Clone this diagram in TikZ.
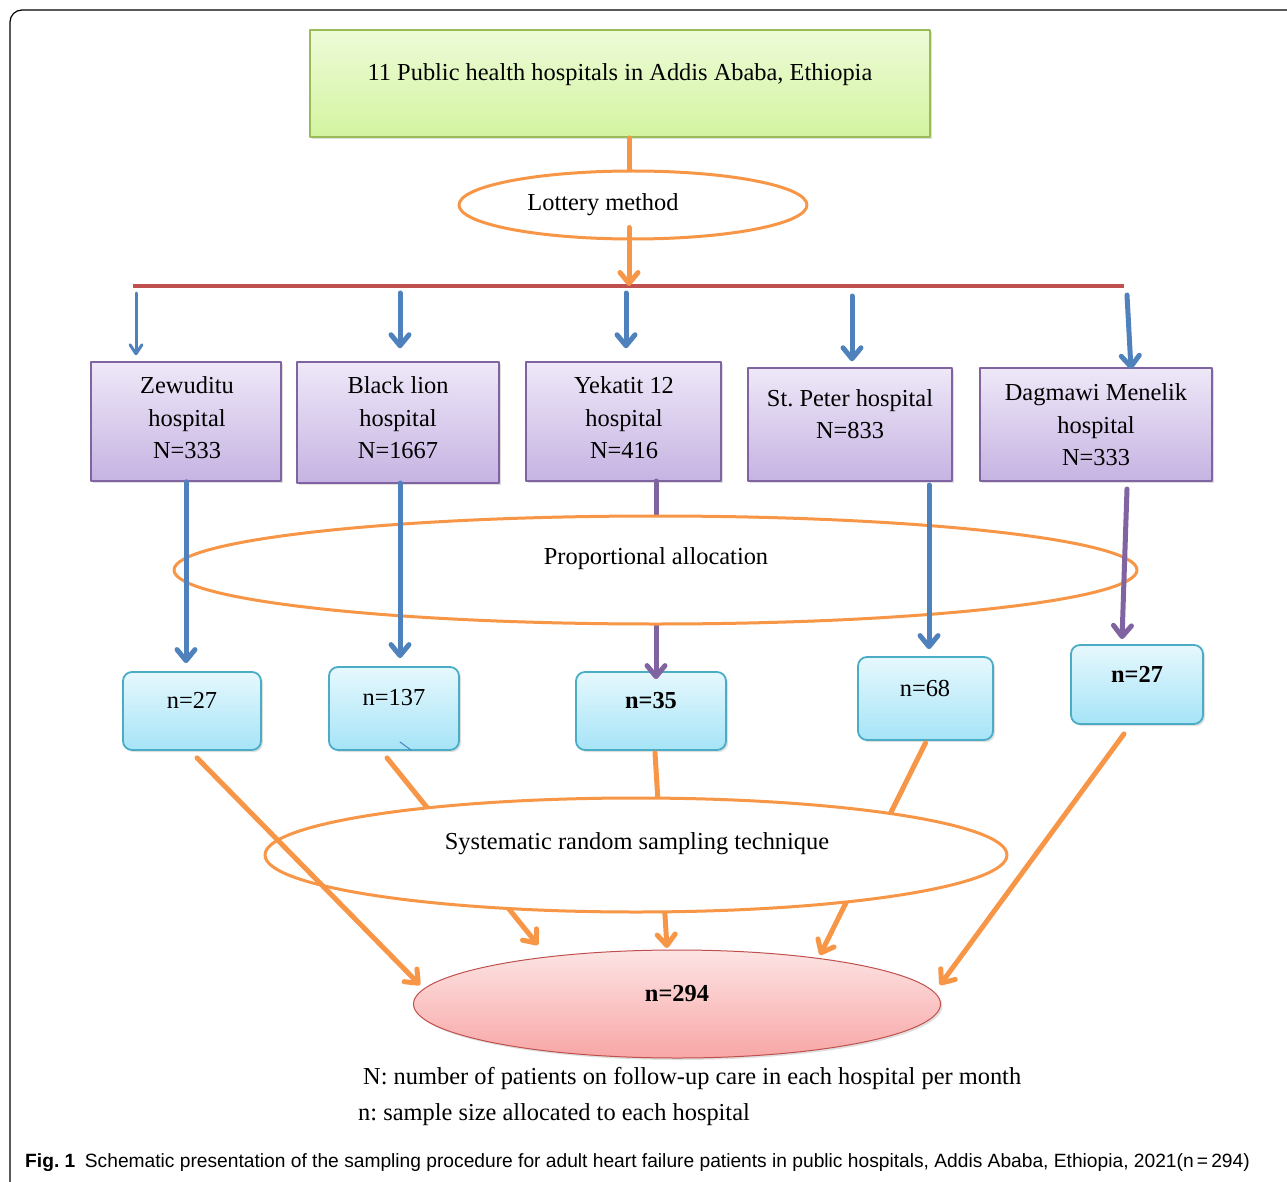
\documentclass[tikz,border=0pt]{standalone}
\usepackage{fontspec}
\setmainfont{Liberation Serif}
\newfontfamily\capfont{Liberation Sans}
\usetikzlibrary{shapes.geometric,arrows.meta,shadows,calc}
\definecolor{orng}{HTML}{F79646}
\definecolor{barred}{HTML}{C0504D}
\definecolor{arrblue}{HTML}{4F81BD}
\definecolor{hosppurple}{HTML}{8064A2}
\definecolor{hospTop}{HTML}{EEE8F8}
\definecolor{hospBot}{HTML}{C6B3E2}
\definecolor{grnline}{HTML}{9BBB59}
\definecolor{grnTop}{HTML}{EEFBD8}
\definecolor{grnBot}{HTML}{D3F4A0}
\definecolor{nborder}{HTML}{4BACC6}
\definecolor{nTop}{HTML}{E6F8FD}
\definecolor{nBot}{HTML}{A6E4F7}
\definecolor{pinkTop}{HTML}{FDE4E4}
\definecolor{pinkBot}{HTML}{F8A6A6}
\frenchspacing
\begin{document}
\begin{tikzpicture}[x=1pt,y=-1pt,>={Straight Barb[length=11pt,width=18pt,round]},
	font=\fontsize{24.4}{32.5}\selectfont, line join=round, line cap=round,
	shad/.style={drop shadow={opacity=0.25,shadow xshift=2pt,shadow yshift=-2pt}},
	topbox/.style={draw=grnline, line width=1.8, top color=grnTop, bottom color=grnBot, inner sep=0, shad},
	hospbox/.style={draw=hosppurple, line width=1.5, top color=hospTop, bottom color=hospBot, inner sep=0, shad},
	nbox/.style={draw=nborder, line width=1.8, rounded corners=9, top color=nTop, bottom color=nBot, inner sep=0, shad},
	ovl/.style={ellipse, draw=orng, line width=3, fill=white, inner sep=0},
	orline/.style={draw=orng, line width=5},
	orarr/.style={orline, ->},
	bluearr/.style={draw=arrblue, line width=5, ->},
	purarr/.style={draw=hosppurple, line width=5, ->}]
	\useasboundingbox (0,0) rectangle (1287,1182);
	
	% frame of the figure
	\draw[line width=1.2, rounded corners=12] (10,1190) -- (10,10) -- (1295,10);
	
	% top
	\node[topbox, minimum width=620, minimum height=107] (top) at (620,83.5) {};
	\node (topt) at (620,75) {11 Public health hospitals in Addis Ababa, Ethiopia};
	\node[ovl, minimum width=348, minimum height=68] (lot) at (633,205) {};
	\node (lott) at (603,205) {Lottery method};
	\draw[orline] ($(top.south)+(9,0)$) -- ($(lot.north)+(-4,0)$);
	
	\coordinate (barL) at (133,286); \coordinate (barR) at (1124,286);
	\coordinate (barM) at (629,286);
	\draw[barred, line width=4, line cap=butt] (barL) -- (barR);
	\draw[orarr] ($(lot.south)+(-4,-13)$) -- (barM);
	
	% hospitals
	\node[hospbox, minimum width=190, minimum height=119] (zew) at (186,421.5) {};
	\node[hospbox, minimum width=202, minimum height=121] (blk) at (398,422.5) {};
	\node[hospbox, minimum width=195, minimum height=119] (yek) at (623.5,421.5) {};
	\node[hospbox, minimum width=204, minimum height=113] (stp) at (850,424.5) {};
	\node[hospbox, minimum width=232, minimum height=113] (dag) at (1096,424.5) {};
	\node[align=center] (zewt) at (187,418) {Zewuditu\\hospital\\N=333};
	\node[align=center] (blkt) at (398,418) {Black lion\\hospital\\N=1667};
	\node[align=center] (yekt) at (624,418) {Yekatit 12\\hospital\\N=416};
	\node[align=center] (stpt) at (850,414) {St. Peter hospital\\N=833};
	\node[align=center] (dagt) at (1096,425) {Dagmawi Menelik\\hospital\\N=333};
	
	\draw[bluearr, line width=3, >={Straight Barb[length=9pt,width=12pt,round]}, shorten >=6pt] (136,293) -- (136,0 |- zew.north);
	\foreach \bx/\hb in {400/blk,626/yek} \draw[bluearr, shorten >=13pt] (\bx,293) -- (\bx,0 |- \hb.north);
	\draw[bluearr, shorten >=6pt] (852,296) -- (852,0 |- stp.north);
	\draw[bluearr] (1127,295) -- ($(dag.north)+(35,2)$);
	
	% samples per hospital
	\node[nbox, minimum width=138, minimum height=78] (nb1) at (192,711) {};
	\node[nbox, minimum width=130, minimum height=83] (nb2) at (394,708.5) {};
	\node[nbox, minimum width=150, minimum height=78] (nb3) at (651,711) {};
	\node[nbox, minimum width=135, minimum height=83] (nb4) at (925.5,698.5) {};
	\node[nbox, minimum width=132, minimum height=79] (nb5) at (1137,684.5) {};
	\node (nb1t) at (192,700) {n=27};
	\node (nb2t) at (394,698) {n=137};
	\node (nb3t) at (651,701) {\textbf{n=35}};
	\node (nb4t) at (925,688) {n=68};
	\node (nb5t) at (1137,674) {\textbf{n=27}};
	\draw[arrblue, line width=1] (400,742) -- (411,750);
	
	\draw[purarr, shorten >=-8pt] (656,481) -- (656,0 |- nb3.north);
	\node[ovl, minimum width=963, minimum height=108] (prop) at (655.5,570) {};
	\node (propt) at (656,559) {Proportional allocation};
	\draw[bluearr, shorten >=8pt] (zew.south) -- (zew.south |- nb1.north);
	\draw[bluearr, shorten >=8pt] (400,483) -- (400,0 |- nb2.north);
	\draw[bluearr, shorten >=7pt] (929,485) -- (929,0 |- nb4.north);
	\draw[purarr] (1127,489) -- ($(nb5.north)+(-15,-5)$);
	
	% total
	\node[ellipse, draw=barred, line width=1, top color=pinkTop, bottom color=pinkBot, inner sep=0, minimum width=527, minimum height=108, shad] (fin) at (677,1004) {};
	\node (fint) at (677,994) {\textbf{n=294}};
	\coordinate (f1) at (420,985); \coordinate (f2) at (538,945);
	\coordinate (f3) at (667,948); \coordinate (f4) at (820,955);
	\coordinate (f5) at (940,985);
	\draw[orarr] ($(nb2.south)+(-7,7)$) -- (f2);
	\draw[orarr] ($(nb3.south)+(4,2)$) -- (f3);
	\draw[orarr] ($(nb4.south)+(0,2)$) -- (f4);
	\node[ovl, minimum width=742, minimum height=114] (sys) at (636,855) {};
	\node (syst) at (637,844) {Systematic random sampling technique};
	\draw[orarr] ($(nb1.south)+(5,7)$) -- (f1);
	\draw[orarr] ($(nb5.south)+(-13,9)$) -- (f5);
	
	% legend and caption
	\node[anchor=west, inner sep=0] (legN) at (363,1078) {N: number of patients on follow-up care in each hospital per month};
	\node[anchor=west, inner sep=0] (legn) at (358,1115) {n: sample size allocated to each hospital};
	\node[anchor=west, inner sep=0, font=\capfont\fontsize{19.2}{22}\selectfont] (cap) at (25,1163) {\textbf{Fig. 1}\hspace{0.5em}Schematic presentation of the sampling procedure for adult heart failure patients in public hospitals, Addis Ababa, Ethiopia, 2021(n\,=\,294)};
\end{tikzpicture}
\end{document}
